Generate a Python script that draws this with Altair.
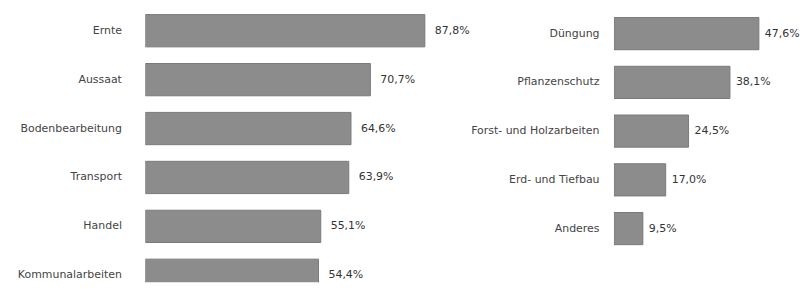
import altair as alt
import pandas as pd

left_cats = ["Ernte", "Aussaat", "Bodenbearbeitung", "Transport", "Handel", "Kommunalarbeiten"]
left_vals = [87.8, 70.7, 64.6, 63.9, 55.1, 54.4]

right_cats = ["Düngung", "Pflanzenschutz", "Forst- und Holzarbeiten", "Erd- und Tiefbau", "Anderes"]
right_vals = [47.6, 38.1, 24.5, 17.0, 9.5]


def fmt(v):
    return f"{v:.1f}".replace(".", ",") + "%"


left_df = pd.DataFrame({"cat": left_cats, "val": left_vals, "lab": [fmt(v) for v in left_vals]})
right_df = pd.DataFrame({"cat": right_cats, "val": right_vals, "lab": [fmt(v) for v in right_vals]})

FONT = "DejaVu Sans"
BAR = "#8c8c8c"
EDGE = "#7a7a7a"


def panel(df, cats, width, xmax, yrange, lpad, extent, dx):
    y = alt.Y(
        "cat:N",
        sort=cats,
        title=None,
        scale=alt.Scale(domain=cats, range=yrange, paddingInner=0.34, paddingOuter=0.12),
        axis=alt.Axis(
            domain=False, ticks=False, labelPadding=lpad, labelFont=FONT,
            labelFontSize=11, labelColor="#444444", labelLimit=300,
            minExtent=extent, maxExtent=extent,
        ),
    )
    x = alt.X("val:Q", title=None, scale=alt.Scale(domain=[0, xmax], nice=False, zero=True), axis=None)
    bars = alt.Chart(df).mark_bar(color=BAR, stroke=EDGE, strokeWidth=1, clip=True).encode(x=x, y=y)
    text = alt.Chart(df).mark_text(
        align="left", baseline="middle", dx=dx, font=FONT, fontSize=11, color="#333333"
    ).encode(x=x, y=y, text="lab:N")
    return alt.layer(bars, text).properties(width=width, height=275)


left = panel(left_df, left_cats, 324, 324 / 3.2, [0, 290], 24, 138, 10)
right = panel(right_df, right_cats, 187, 187 / 3.06, [3, 243], 15, 141, 6)

chart = (
    alt.hconcat(left, right, spacing=0)
    .configure(padding=0)
    .configure_view(stroke=None)
)

chart.save("out.html", embed_options={"renderer": "svg", "actions": False})
